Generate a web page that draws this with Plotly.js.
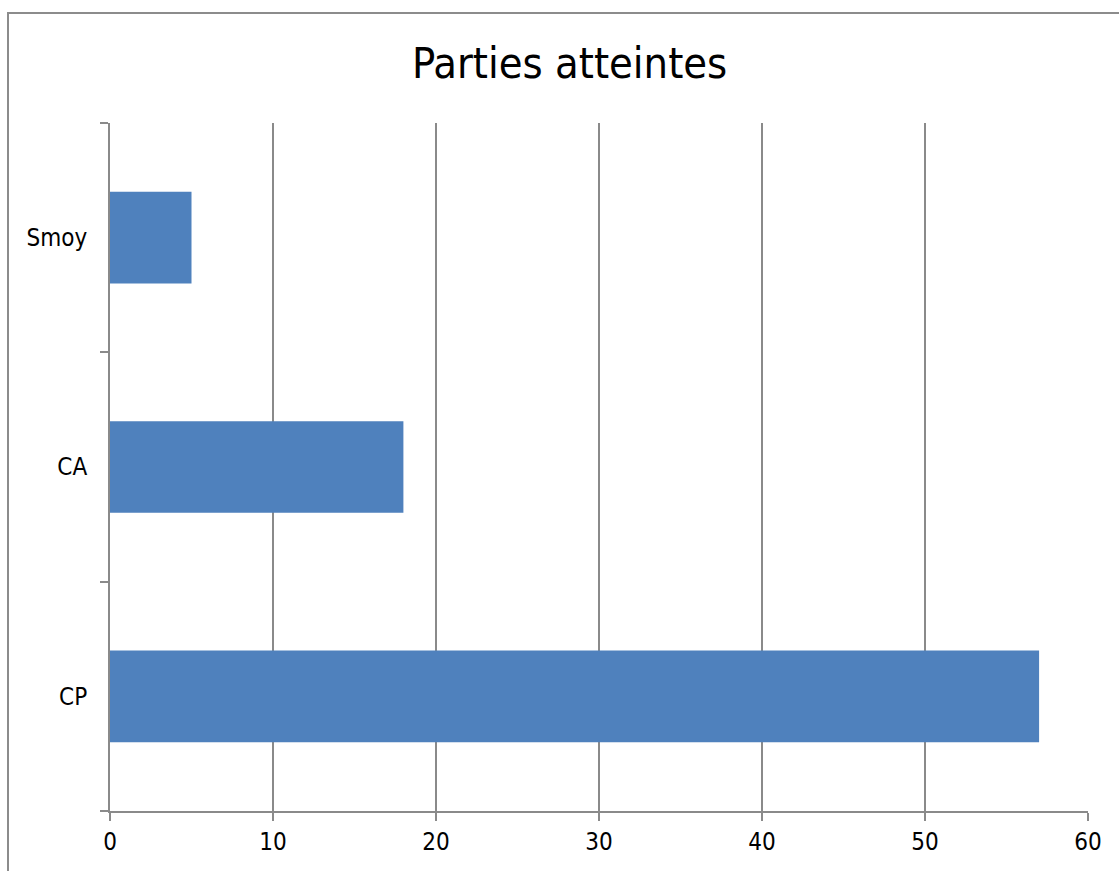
<!DOCTYPE html>
<html>
<head>
<meta charset="utf-8">
<script src="https://cdn.plot.ly/plotly-3.0.1.min.js"></script>
<style>
  html, body { margin: 0; padding: 0; background: #fff; overflow: hidden; }
  #frame { position: absolute; left: 7px; top: 12px; width: 1130px; height: 900px; border: 2px solid #8c8c8c; box-sizing: border-box; }
  #chart { position: absolute; left: 0; top: 0; width: 1119px; height: 871px; }
</style>
</head>
<body>
<div id="frame"></div>
<div id="chart"></div>
<script>
const categories = ["CP", "CA", "Smoy"];
const values = [57, 18, 5];
const xTicks = [0, 10, 20, 30, 40, 50, 60];
const chartTitle = "Parties atteintes";

const fontFam = "DejaVu Sans Condensed, sans-serif";

Plotly.newPlot("chart", [{
  type: "bar",
  orientation: "h",
  y: categories,
  x: values,
  marker: { color: "#4F81BD", line: { width: 0 } },
  hoverinfo: "none"
}], {
  width: 1119,
  height: 871,
  paper_bgcolor: "rgba(0,0,0,0)",
  plot_bgcolor: "rgba(0,0,0,0)",
  margin: { l: 110, r: 31, t: 123, b: 60 },
  bargap: 0.6,
  showlegend: false,
  title: {
    text: chartTitle,
    x: 0.509, xanchor: "center",
    y: 0.928, yanchor: "middle",
    font: { family: fontFam, size: 43, color: "#000", weight: 500 }
  },
  xaxis: {
    range: [0, 60],
    tickvals: xTicks,
    ticktext: xTicks.map(String),
    showgrid: true,
    gridcolor: "#8a8a8a",
    gridwidth: 2,
    zeroline: false,
    showline: true,
    linecolor: "#8a8a8a",
    linewidth: 2,
    ticks: "outside",
    ticklen: 8,
    tickwidth: 2,
    tickcolor: "#8a8a8a",
    tickfont: { family: fontFam, size: 24, color: "#000" },
    fixedrange: true
  },
  yaxis: {
    showgrid: false,
    zeroline: false,
    showline: true,
    linecolor: "#8a8a8a",
    linewidth: 2,
    ticks: "outside",
    tickson: "boundaries",
    ticklen: 8,
    tickwidth: 2,
    tickcolor: "#8a8a8a",
    ticklabelstandoff: 16,
    tickfont: { family: fontFam, size: 24, color: "#000" },
    fixedrange: true
  }
}, { displayModeBar: false, staticPlot: true });
</script>
</body>
</html>
